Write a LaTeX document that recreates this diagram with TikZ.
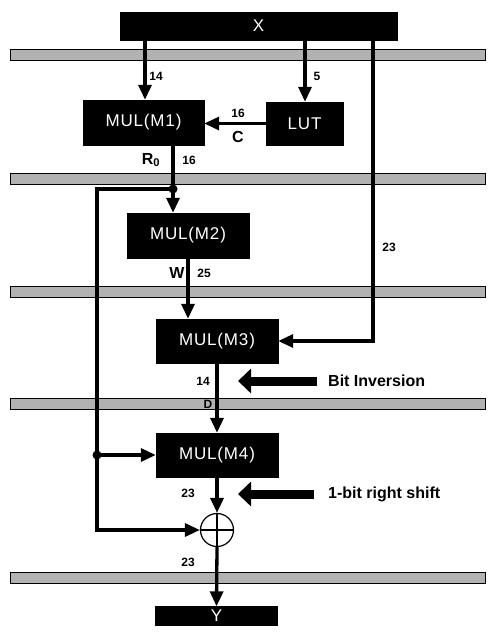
\documentclass[tikz,border=0pt]{standalone}
\usepackage{fontspec}
\setmainfont{Liberation Sans}
\newfontfamily\boxfont[LetterSpace=5]{Liberation Sans}
\usetikzlibrary{arrows.meta}
\begin{document}
\begin{tikzpicture}[x=1pt,y=-1pt,
  band/.style={draw=black,line width=1pt,fill=black!30},
  blk/.style={fill=black,draw=black,text=white,inner sep=0pt,font=\boxfont\fontsize{17}{19}\selectfont},
  arr/.style={line width=3.3pt,-{Triangle[length=15pt,width=13pt]}},
  ln/.style={line width=3.3pt},
  num/.style={font=\bfseries\fontsize{12}{13}\selectfont,inner sep=0pt},
  sig/.style={font=\bfseries\fontsize{16}{17}\selectfont,inner sep=0pt},
  note/.style={font=\bfseries\fontsize{16}{18}\selectfont,inner sep=0pt,anchor=west},
  fat/.style={line width=9pt,-{Triangle[length=13pt,width=24pt]}},
  jdot/.style={circle,fill=black,inner sep=0pt,minimum size=9pt}]
\useasboundingbox (0,0) rectangle (488,634);
% pipeline bands
\foreach \yy in {50,173,286,398,572}{
  \draw[band] (10,\yy) rectangle (485,\yy+11);
}
% blocks
\node[blk,minimum width=277pt,minimum height=28pt] (x) at (258.5,26) {X};
\node[blk,minimum width=121pt,minimum height=45pt] (m1) at (143.5,122.5) {MUL(M1)};
\node[blk,minimum width=77pt,minimum height=43pt] (lut) at (304.5,123.5) {LUT};
\node[blk,minimum width=122pt,minimum height=45pt] (m2) at (188,235.5) {MUL(M2)};
\node[blk,minimum width=122pt,minimum height=44pt] (m3) at (217,341) {MUL(M3)};
\node[blk,minimum width=122pt,minimum height=44pt] (m4) at (217,455) {MUL(M4)};
\node[blk,minimum width=122pt,minimum height=19pt] (y) at (216.5,616) {Y};
\node[circle,draw=black,line width=1.2pt,minimum size=33pt,inner sep=0pt] (add) at (217,530) {};
\draw[line width=1.2pt] (add.north) -- (add.south) (add.west) -- (add.east);
% guide coordinates
\coordinate (cA) at (145,0);
\coordinate (cB) at (305,0);
\coordinate (cR) at (373,0);
\coordinate (cM) at (173,0);
\coordinate (cW) at (188,0);
\node[jdot] (d1) at (173,189) {};
\node[jdot] (d2) at (97,455) {};
% connectors
\draw[arr] (x.south -| cA) -- (m1.north -| cA);
\draw[arr] (x.south -| cB) -- (lut.north -| cB);
\draw[arr] (lut.west) -- (lut.west -| m1.east);
\draw[arr] (m1.south -| cM) -- (m2.north -| cM);
\draw[ln] (d1.center) -| (d2.center);
\draw[arr] (d2.center) |- (add.west);
\draw[arr] (d2.center) -- (m4.west);
\draw[arr] (m2.south -| cW) -- (m3.north -| cW);
\draw[arr] (x.south -| cR) |- (m3.east);
\draw[arr] (m3.south) -- (m4.north);
\draw[arr] (m4.south) -- (add.north);
\draw[arr] (add.south) -- (y.north);
% labels
\node[num] (l14a) at (156,76) {14};
\node[num] (l5) at (317,76) {5};
\node[num] (l16a) at (238,113) {16};
\node[sig] (lc) at (238,137) {C};
\node[sig] (lr) at (151,160) {R$_{\mathbf 0}$};
\node[num] (l16b) at (189,160) {16};
\node[sig] (lw) at (177,273) {W};
\node[num] (l25) at (204,273) {25};
\node[num] (l23a) at (389,247) {23};
\node[num] (l14b) at (203,381) {14};
\node[num] (ld) at (208,404) {D};
\node[num] (l23b) at (188,493) {23};
\node[num] (l23c) at (188,562) {23};
% notes with fat arrows
\node[note] (bi) at (328,381) {Bit Inversion};
\coordinate (bis) at (317,381);
\coordinate (bit) at (238,381);
\draw[fat] (bis) -- (bit);
\node[note] (rs) at (328,494) {1-bit right shift};
\coordinate (rss) at (314,494);
\coordinate (rst) at (238,494);
\draw[fat] (rss) -- (rst);
\end{tikzpicture}
\end{document}
